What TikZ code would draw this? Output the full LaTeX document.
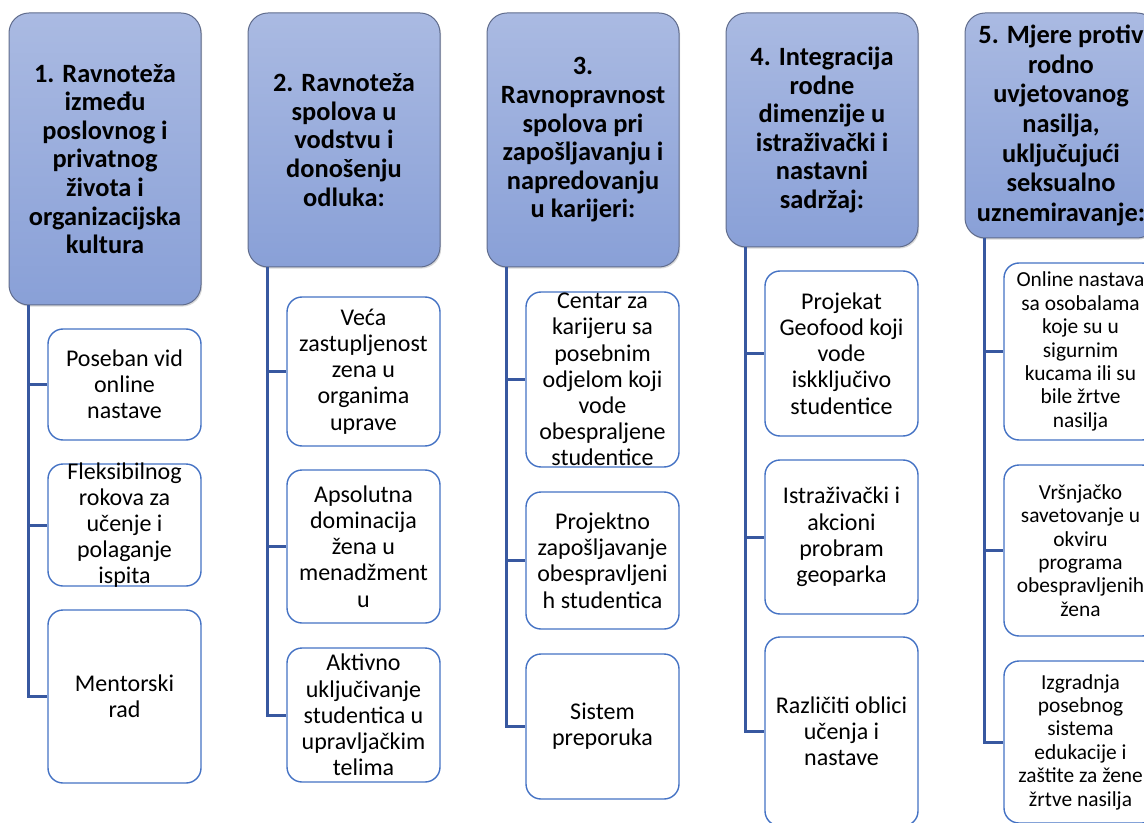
\documentclass[tikz,border=0pt]{standalone}
\usepackage{fontspec}
\setmainfont{Carlito}
\usepackage{tikz}
\usetikzlibrary{shadows}
\definecolor{headtop}{RGB}{170,186,226}
\definecolor{headbot}{RGB}{137,160,215}
\definecolor{headline}{RGB}{96,108,140}
\definecolor{subline}{RGB}{68,114,196}
\definecolor{connline}{RGB}{56,88,160}
\tikzset{
  head/.style={draw=headline, line width=0.5pt, rounded corners=10pt,
    top color=headtop, bottom color=headbot, minimum width=96pt,
    align=center, inner sep=0pt, font=\fontsize{13.2pt}{14.3pt}\selectfont\bfseries,
    drop shadow={shadow xshift=0.6pt, shadow yshift=-0.8pt, opacity=0.3}},
  sub/.style={draw=subline, line width=0.7pt, rounded corners=7.5pt,
    fill=white, minimum width=76.5pt, inner sep=0pt},
  txt/.style={align=center, inner sep=0pt, font=\fontsize{12pt}{13.1pt}\selectfont},
  smalltxt/.style={txt, font=\fontsize{10.7pt}{11.7pt}\selectfont},
  conn/.style={draw=connline, line width=1.5pt}
}
\begin{document}
\begin{tikzpicture}[x=0.5pt, y=-0.5pt]
      \clip (0,0) rectangle (1144,823);
      % headers
      \node[head, minimum height=146pt] (h1) at (105,159) {1. Ravnoteža\\između\\poslovnog i\\privatnog\\života i\\organizacijska\\kultura};
      \node[head, minimum height=127pt] (h2) at (344,140) {2. Ravnoteža\\spolova u\\vodstvu i\\donošenju\\odluka:};
      \node[head, minimum height=127pt] (h3) at (583,140) {3.\\Ravnopravnost\\spolova pri\\zapošljavanju i\\napredovanju\\u karijeri:};
      \node[head, minimum height=117pt] (h4) at (822,130) {4. Integracija\\rodne\\dimenzije u\\istraživački i\\nastavni\\sadržaj:};
      \node[head, minimum height=112.5pt, font=\fontsize{13.2pt}{14.8pt}\selectfont\bfseries] (h5) at (1061,125.5) {5. Mjere protiv\\rodno\\uvjetovanog\\nasilja,\\uključujući\\seksualno\\uznemiravanje:};
      % boxes
      \node[sub, minimum height=55.5pt] (c1a) at (124.5,384.5) {};
      \node[sub, minimum height=61pt] (c1b) at (124.5,525) {};
      \node[sub, minimum height=86.5pt] (c1c) at (124.5,696.5) {};
      \node[sub, minimum height=74.5pt] (c2a) at (363.5,371.5) {};
      \node[sub, minimum height=76.5pt] (c2b) at (363.5,546.5) {};
      \node[sub, minimum height=67pt] (c2c) at (363.5,715) {};
      \node[sub, minimum height=87.5pt] (c3a) at (602.5,379.5) {};
      \node[sub, minimum height=68.5pt] (c3b) at (602.5,560.5) {};
      \node[sub, minimum height=72.5pt] (c3c) at (602.5,726.5) {};
      \node[sub, minimum height=82.5pt] (c4a) at (841.5,353.5) {};
      \node[sub, minimum height=77pt] (c4b) at (841.5,537) {};
      \node[sub, minimum height=94.5pt] (c4c) at (841.5,731.5) {};
      \node[sub, minimum height=88.5pt] (c5a) at (1080.5,351.5) {};
      \node[sub, minimum height=85.5pt] (c5b) at (1080.5,550.5) {};
      \node[sub, minimum height=81pt] (c5c) at (1080.5,742) {};
      \foreach \c in {1,...,5}
        \foreach \s in {a,b,c}
          \draw[conn] ([xshift=10pt]h\c.south west) |- (c\c\s.west);
      % texts
      \node[txt] (t1a) at (c1a) {Poseban vid\\online\\nastave};
      \node[txt] (t1b) at (c1b) {Fleksibilnog\\rokova za\\učenje i\\polaganje\\ispita};
      \node[txt] (t1c) at (c1c) {Mentorski\\rad};
      \node[txt] (t2a) at (c2a) {Veća\\zastupljenost\\zena u\\organima\\uprave};
      \node[txt] (t2b) at (c2b) {Apsolutna\\dominacija\\žena u\\menadžment\\u};
      \node[txt] (t2c) at (c2c) {Aktivno\\uključivanje\\studentica u\\upravljačkim\\telima};
      \node[txt] (t3a) at (c3a) {Centar za\\karijeru sa\\posebnim\\odjelom koji\\vode\\obespraljene\\studentice};
      \node[txt] (t3b) at (c3b) {Projektno\\zapošljavanje\\obespravljeni\\h studentica};
      \node[txt] (t3c) at (c3c) {Sistem\\preporuka};
      \node[txt] (t4a) at (c4a) {Projekat\\Geofood koji\\vode\\iskključivo\\studentice};
      \node[txt] (t4b) at (c4b) {Istraživački i\\akcioni\\probram\\geoparka};
      \node[txt] (t4c) at (c4c) {Različiti oblici\\učenja i\\nastave};
      \node[smalltxt] (t5a) at (c5a) {Online nastava\\sa osobalama\\koje su u\\sigurnim\\kucama ili su\\bile žrtve\\nasilja};
      \node[smalltxt] (t5b) at (c5b) {Vršnjačko\\savetovanje u\\okviru\\programa\\obespravljenih\\žena};
      \node[smalltxt] (t5c) at (c5c) {Izgradnja\\posebnog\\sistema\\edukacije i\\zaštite za žene\\žrtve nasilja};
\end{tikzpicture}
\end{document}
